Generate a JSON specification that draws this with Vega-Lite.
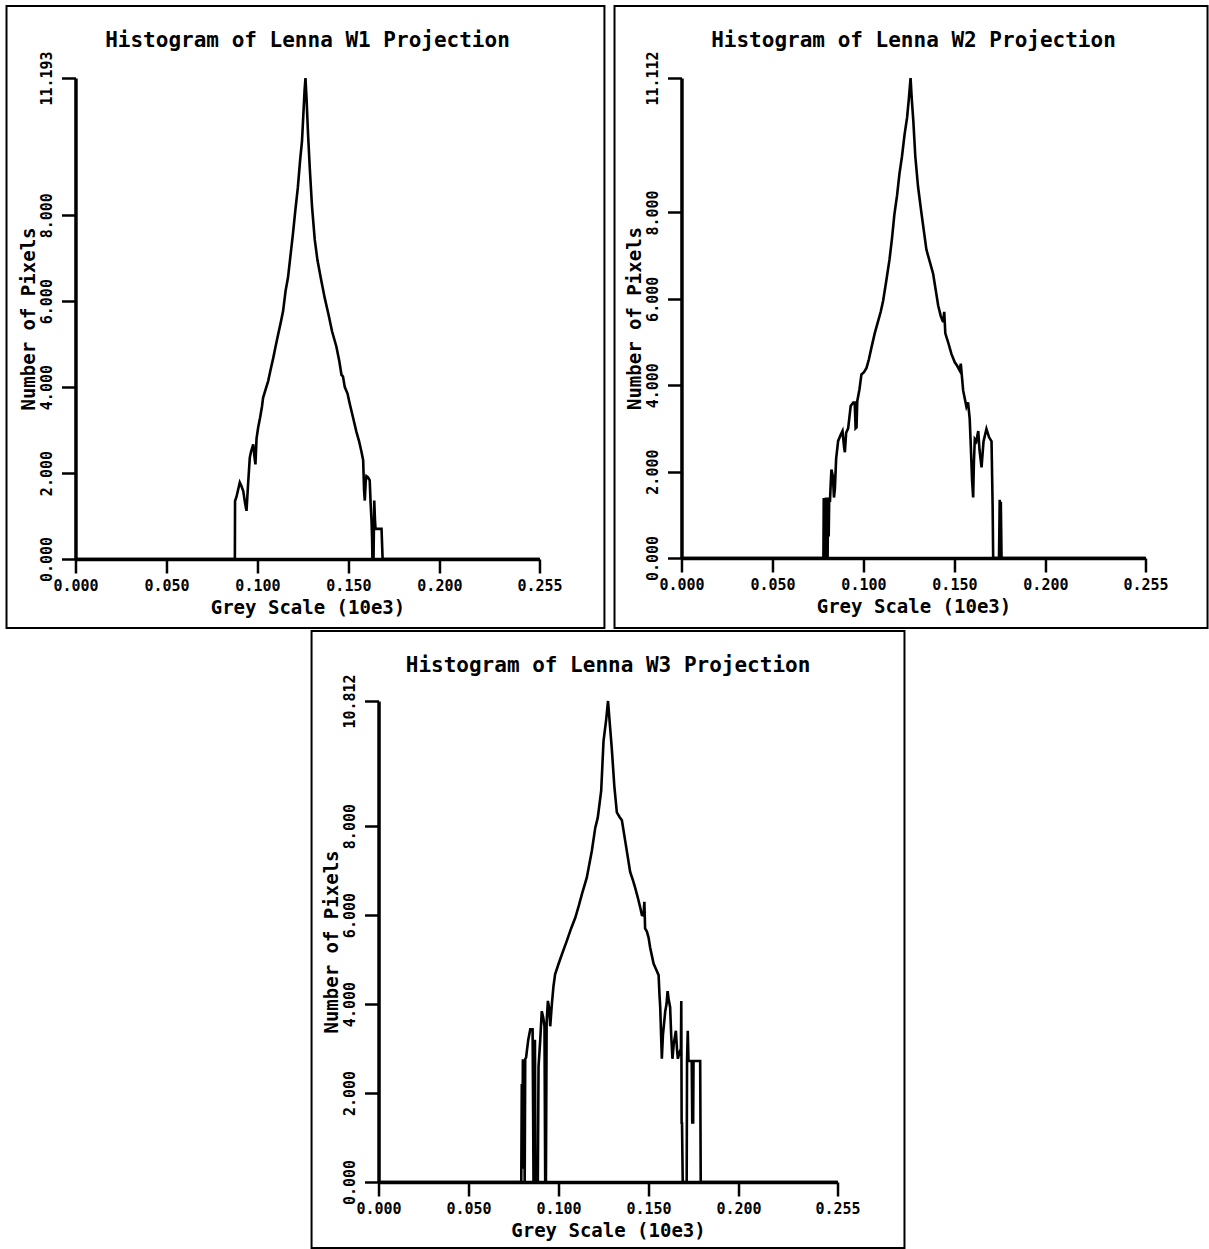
{
  "$schema": "https://vega.github.io/schema/vega-lite/v6.json",
  "background": "white",
  "padding": {"left": 5, "top": 4, "right": 0, "bottom": 0},
  "config": {
    "view": {"stroke": null},
    "axis": {"grid": false, "domainColor": "black", "domainWidth": 3.5, "tickColor": "black", "tickWidth": 2.5, "tickSize": 14,
      "labelColor": "black", "labelFont": "DejaVu Sans Mono", "labelFontWeight": "bold", "labelFontSize": 15,
      "titleColor": "black", "titleFont": "DejaVu Sans Mono", "titleFontWeight": "bold", "titleFontSize": 19,
      "labelFlush": false, "labelOverlap": false},
    "axisX": {"labelPadding": 5, "titlePadding": 5},
    "axisY": {"labelPadding": 7, "titlePadding": 1, "labelAngle": -90, "labelAlign": "center", "labelBaseline": "bottom"},
    "title": {"font": "DejaVu Sans Mono", "fontSize": 21, "fontWeight": "bold", "color": "black", "anchor": "middle", "frame": "group", "offset": -46}
  },
  "datasets": {
    "w1": [
      {"x":0,"y":0},{"x":0.0876,"y":0},{"x":0.0877,"y":1.35},{"x":0.0885,"y":1.45},{"x":0.0903,"y":1.78},{"x":0.0912,"y":1.7},{"x":0.0922,"y":1.58},{"x":0.0932,"y":1.3},{"x":0.094,"y":1.12},{"x":0.0948,"y":1.7},{"x":0.0958,"y":2.36},{"x":0.0965,"y":2.5},{"x":0.0977,"y":2.67},{"x":0.0983,"y":2.4},{"x":0.0989,"y":2.2},{"x":0.0995,"y":2.8},{"x":0.1004,"y":3.06},{"x":0.1015,"y":3.3},{"x":0.1025,"y":3.55},{"x":0.1031,"y":3.75},{"x":0.1045,"y":3.95},{"x":0.1059,"y":4.14},{"x":0.1072,"y":4.4},{"x":0.1087,"y":4.68},{"x":0.11,"y":4.95},{"x":0.1114,"y":5.23},{"x":0.1128,"y":5.5},{"x":0.1141,"y":5.77},{"x":0.1155,"y":6.25},{"x":0.1168,"y":6.55},{"x":0.118,"y":7.0},{"x":0.1195,"y":7.56},{"x":0.1208,"y":8.1},{"x":0.1222,"y":8.64},{"x":0.1235,"y":9.3},{"x":0.1245,"y":9.73},{"x":0.1253,"y":10.4},{"x":0.1259,"y":10.9},{"x":0.1264,"y":11.193},{"x":0.127,"y":10.7},{"x":0.1278,"y":9.9},{"x":0.1288,"y":9.07},{"x":0.13,"y":8.2},{"x":0.1315,"y":7.43},{"x":0.133,"y":6.95},{"x":0.135,"y":6.5},{"x":0.137,"y":6.07},{"x":0.139,"y":5.7},{"x":0.141,"y":5.3},{"x":0.1434,"y":4.94},{"x":0.145,"y":4.6},{"x":0.1462,"y":4.28},{"x":0.147,"y":4.25},{"x":0.148,"y":4.0},{"x":0.1495,"y":3.85},{"x":0.1507,"y":3.62},{"x":0.1525,"y":3.3},{"x":0.1544,"y":2.96},{"x":0.1558,"y":2.75},{"x":0.1572,"y":2.49},{"x":0.1581,"y":2.3},{"x":0.1586,"y":1.6},{"x":0.159,"y":1.36},{"x":0.1595,"y":1.8},{"x":0.1599,"y":1.93},{"x":0.1608,"y":1.9},{"x":0.1617,"y":1.83},{"x":0.1622,"y":1.3},{"x":0.1627,"y":0.89},{"x":0.163,"y":0.5},{"x":0.1632,"y":0},{"x":0.1638,"y":0},{"x":0.1642,"y":1.36},{"x":0.1646,"y":0.9},{"x":0.1649,"y":0.7},{"x":0.1682,"y":0.7},{"x":0.1688,"y":0},{"x":0.255,"y":0}
    ],
    "w2": [
      {"x":0,"y":0},{"x":0.078,"y":0},{"x":0.0782,"y":1.39},{"x":0.0785,"y":0.2},{"x":0.0788,"y":1.3},{"x":0.0791,"y":0},{"x":0.0794,"y":1.4},{"x":0.0797,"y":0.3},{"x":0.08,"y":1.35},{"x":0.0803,"y":0},{"x":0.0806,"y":1.4},{"x":0.0809,"y":0.5},{"x":0.0812,"y":1.4},{"x":0.0816,"y":1.3},{"x":0.082,"y":1.7},{"x":0.0824,"y":2.05},{"x":0.0832,"y":1.9},{"x":0.0838,"y":1.4},{"x":0.0843,"y":1.6},{"x":0.085,"y":2.3},{"x":0.0861,"y":2.71},{"x":0.0875,"y":2.85},{"x":0.0885,"y":2.94},{"x":0.0894,"y":2.55},{"x":0.0898,"y":2.45},{"x":0.0905,"y":2.9},{"x":0.0916,"y":3.0},{"x":0.093,"y":3.52},{"x":0.0944,"y":3.6},{"x":0.0952,"y":3.6},{"x":0.0957,"y":3.0},{"x":0.0962,"y":3.02},{"x":0.0966,"y":3.63},{"x":0.0978,"y":3.9},{"x":0.0989,"y":4.25},{"x":0.1003,"y":4.3},{"x":0.1017,"y":4.4},{"x":0.103,"y":4.6},{"x":0.1044,"y":4.87},{"x":0.1062,"y":5.2},{"x":0.1081,"y":5.49},{"x":0.1095,"y":5.7},{"x":0.1108,"y":5.95},{"x":0.1125,"y":6.4},{"x":0.1143,"y":6.9},{"x":0.1157,"y":7.4},{"x":0.117,"y":7.95},{"x":0.1185,"y":8.4},{"x":0.1198,"y":8.9},{"x":0.1212,"y":9.3},{"x":0.1226,"y":9.8},{"x":0.124,"y":10.2},{"x":0.125,"y":10.65},{"x":0.1259,"y":11.112},{"x":0.1266,"y":10.6},{"x":0.1274,"y":10.13},{"x":0.1285,"y":9.3},{"x":0.13,"y":8.6},{"x":0.1319,"y":7.98},{"x":0.1346,"y":7.14},{"x":0.1383,"y":6.58},{"x":0.1411,"y":5.84},{"x":0.1425,"y":5.6},{"x":0.1438,"y":5.46},{"x":0.1444,"y":5.7},{"x":0.145,"y":5.2},{"x":0.1465,"y":5.0},{"x":0.1484,"y":4.72},{"x":0.1502,"y":4.53},{"x":0.1515,"y":4.45},{"x":0.1529,"y":4.34},{"x":0.1535,"y":4.5},{"x":0.1548,"y":3.88},{"x":0.1566,"y":3.5},{"x":0.1575,"y":3.6},{"x":0.1584,"y":3.22},{"x":0.159,"y":2.6},{"x":0.1597,"y":1.8},{"x":0.1603,"y":1.4},{"x":0.1607,"y":2.2},{"x":0.1612,"y":2.75},{"x":0.162,"y":2.7},{"x":0.1631,"y":2.94},{"x":0.1638,"y":2.5},{"x":0.1649,"y":2.1},{"x":0.166,"y":2.7},{"x":0.1676,"y":2.99},{"x":0.169,"y":2.8},{"x":0.1704,"y":2.7},{"x":0.171,"y":1.2},{"x":0.1713,"y":0},{"x":0.1745,"y":0},{"x":0.1749,"y":1.35},{"x":0.1752,"y":0.3},{"x":0.1755,"y":1.3},{"x":0.1759,"y":0},{"x":0.255,"y":0}
    ],
    "w3": [
      {"x":0,"y":0},{"x":0.0793,"y":0},{"x":0.0796,"y":2.2},{"x":0.0799,"y":0.3},{"x":0.0802,"y":2.76},{"x":0.0806,"y":0.5},{"x":0.0809,"y":2.7},{"x":0.0812,"y":0},{"x":0.0815,"y":2.76},{"x":0.082,"y":2.8},{"x":0.0824,"y":2.94},{"x":0.0832,"y":3.2},{"x":0.0843,"y":3.43},{"x":0.0856,"y":3.43},{"x":0.0859,"y":1.5},{"x":0.0861,"y":0},{"x":0.0866,"y":0},{"x":0.0869,"y":3.2},{"x":0.0872,"y":0},{"x":0.0885,"y":0},{"x":0.0889,"y":2.6},{"x":0.0898,"y":3.17},{"x":0.0907,"y":3.84},{"x":0.0915,"y":3.7},{"x":0.0922,"y":3.5},{"x":0.0926,"y":0},{"x":0.093,"y":0},{"x":0.0934,"y":3.6},{"x":0.0941,"y":4.07},{"x":0.0948,"y":3.9},{"x":0.0954,"y":3.5},{"x":0.0963,"y":4.0},{"x":0.0972,"y":4.4},{"x":0.0981,"y":4.67},{"x":0.1,"y":4.9},{"x":0.1019,"y":5.12},{"x":0.1046,"y":5.42},{"x":0.107,"y":5.7},{"x":0.1093,"y":5.94},{"x":0.1112,"y":6.2},{"x":0.113,"y":6.47},{"x":0.1157,"y":6.84},{"x":0.1185,"y":7.44},{"x":0.1204,"y":7.96},{"x":0.1218,"y":8.19},{"x":0.1237,"y":8.79},{"x":0.125,"y":9.91},{"x":0.1265,"y":10.4},{"x":0.1275,"y":10.812},{"x":0.1285,"y":10.3},{"x":0.1296,"y":9.74},{"x":0.131,"y":8.9},{"x":0.1324,"y":8.31},{"x":0.134,"y":8.2},{"x":0.1352,"y":8.13},{"x":0.137,"y":7.68},{"x":0.1385,"y":7.3},{"x":0.1398,"y":6.97},{"x":0.1412,"y":6.8},{"x":0.1426,"y":6.61},{"x":0.144,"y":6.4},{"x":0.1454,"y":6.17},{"x":0.1463,"y":6.0},{"x":0.1472,"y":5.99},{"x":0.1477,"y":6.3},{"x":0.1481,"y":5.7},{"x":0.1491,"y":5.63},{"x":0.15,"y":5.5},{"x":0.1509,"y":5.27},{"x":0.1518,"y":5.1},{"x":0.1528,"y":4.91},{"x":0.154,"y":4.8},{"x":0.1556,"y":4.65},{"x":0.1561,"y":4.2},{"x":0.1565,"y":3.93},{"x":0.1574,"y":2.77},{"x":0.158,"y":3.3},{"x":0.1593,"y":3.84},{"x":0.16,"y":4.0},{"x":0.1606,"y":4.29},{"x":0.1612,"y":4.1},{"x":0.162,"y":3.93},{"x":0.1626,"y":3.3},{"x":0.1633,"y":2.77},{"x":0.164,"y":3.1},{"x":0.1652,"y":3.4},{"x":0.1658,"y":3.0},{"x":0.1663,"y":2.77},{"x":0.1672,"y":2.9},{"x":0.168,"y":3.0},{"x":0.1682,"y":4.07},{"x":0.1684,"y":1.3},{"x":0.1686,"y":1.34},{"x":0.169,"y":0},{"x":0.1712,"y":0},{"x":0.1714,"y":2.72},{"x":0.1718,"y":3.4},{"x":0.1722,"y":2.72},{"x":0.174,"y":2.72},{"x":0.1743,"y":1.34},{"x":0.1748,"y":1.34},{"x":0.175,"y":2.72},{"x":0.1787,"y":2.72},{"x":0.179,"y":0},{"x":0.255,"y":0}
    ]
  },
  "vconcat": [
    {
      "hconcat": [
        {
          "width": 464, "height": 481,
          "title": {"text": "Histogram of Lenna W1 Projection"},
          "layer": [
            {
              "data": {"name": "w1"},
              "mark": {"type": "line", "color": "black", "strokeWidth": 2.6},
              "encoding": {
                "x": {"field": "x", "type": "quantitative", "scale": {"domain": [0, 0.255], "nice": false, "zero": false},
                  "axis": {"values": [0, 0.05, 0.1, 0.15, 0.2, 0.255], "format": ".3f", "title": "Grey Scale (10e3)"}},
                "y": {"field": "y", "type": "quantitative", "scale": {"domain": [0, 11.193], "nice": false},
                  "axis": {"values": [0, 2, 4, 6, 8, 11.193], "format": ".3f", "title": "Number of Pixels"}}
              }
            },
            {
              "data": {"values": [{}]},
              "mark": {"type": "rect", "filled": false, "color": "black", "strokeWidth": 2},
              "encoding": {
                "x": {"datum": -0.0379, "type": "quantitative", "scale": {"domain": [0, 0.255], "nice": false, "zero": false},
                  "axis": {"values": [0, 0.05, 0.1, 0.15, 0.2, 0.255], "format": ".3f", "title": "Grey Scale (10e3)"}},
                "x2": {"datum": 0.2907},
                "y": {"datum": -1.606, "type": "quantitative", "scale": {"domain": [0, 11.193], "nice": false},
                  "axis": {"values": [0, 2, 4, 6, 8, 11.193], "format": ".3f", "title": "Number of Pixels"}},
                "y2": {"datum": 12.869}
              }
            }
          ]
        },
        {
          "width": 464, "height": 480,
          "title": {"text": "Histogram of Lenna W2 Projection"},
          "layer": [
            {
              "data": {"name": "w2"},
              "mark": {"type": "line", "color": "black", "strokeWidth": 2.6},
              "encoding": {
                "x": {"field": "x", "type": "quantitative", "scale": {"domain": [0, 0.255], "nice": false, "zero": false},
                  "axis": {"values": [0, 0.05, 0.1, 0.15, 0.2, 0.255], "format": ".3f", "title": "Grey Scale (10e3)"}},
                "y": {"field": "y", "type": "quantitative", "scale": {"domain": [0, 11.112], "nice": false},
                  "axis": {"values": [0, 2, 4, 6, 8, 11.112], "format": ".3f", "title": "Number of Pixels"}}
              }
            },
            {
              "data": {"values": [{}]},
              "mark": {"type": "rect", "filled": false, "color": "black", "strokeWidth": 2},
              "encoding": {
                "x": {"datum": -0.0368, "type": "quantitative", "scale": {"domain": [0, 0.255], "nice": false, "zero": false},
                  "axis": {"values": [0, 0.05, 0.1, 0.15, 0.2, 0.255], "format": ".3f", "title": "Grey Scale (10e3)"}},
                "x2": {"datum": 0.2891},
                "y": {"datum": -1.62, "type": "quantitative", "scale": {"domain": [0, 11.112], "nice": false},
                  "axis": {"values": [0, 2, 4, 6, 8, 11.112], "format": ".3f", "title": "Number of Pixels"}},
                "y2": {"datum": 12.778}
              }
            }
          ]
        }
      ],
      "spacing": 8
    },
    {
      "width": 459, "height": 481,
      "title": {"text": "Histogram of Lenna W3 Projection"},
      "layer": [
        {
          "data": {"name": "w3"},
          "mark": {"type": "line", "color": "black", "strokeWidth": 2.6},
          "encoding": {
            "x": {"field": "x", "type": "quantitative", "scale": {"domain": [0, 0.255], "nice": false, "zero": false},
              "axis": {"values": [0, 0.05, 0.1, 0.15, 0.2, 0.255], "format": ".3f", "title": "Grey Scale (10e3)"}},
            "y": {"field": "y", "type": "quantitative", "scale": {"domain": [0, 10.812], "nice": false},
              "axis": {"values": [0, 2, 4, 6, 8, 10.812], "format": ".3f", "title": "Number of Pixels"}}
          }
        },
        {
          "data": {"values": [{}]},
          "mark": {"type": "rect", "filled": false, "color": "black", "strokeWidth": 2},
          "encoding": {
            "x": {"datum": -0.0372, "type": "quantitative", "scale": {"domain": [0, 0.255], "nice": false, "zero": false},
              "axis": {"values": [0, 0.05, 0.1, 0.15, 0.2, 0.255], "format": ".3f", "title": "Grey Scale (10e3)"}},
            "x2": {"datum": 0.2922},
            "y": {"datum": -1.4835, "type": "quantitative", "scale": {"domain": [0, 10.812], "nice": false},
              "axis": {"values": [0, 2, 4, 6, 8, 10.812], "format": ".3f", "title": "Number of Pixels"}},
            "y2": {"datum": 12.385}
          }
        }
      ]
    }
  ],
  "spacing": 0,
  "center": true
}
